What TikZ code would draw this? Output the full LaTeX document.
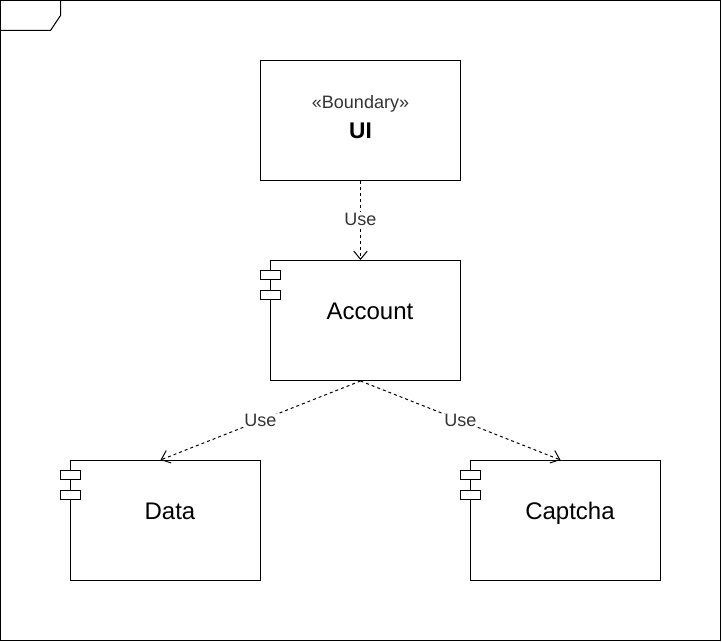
\documentclass[tikz,border=0pt]{standalone}
\usepackage{fontspec}
\setmainfont{Liberation Sans}
\usetikzlibrary{arrows.meta,calc}
\definecolor{lbl}{HTML}{333333}
\tikzset{
  box/.style={draw=black, line width=0.75pt, fill=white, inner sep=0pt, minimum width=142.5pt, minimum height=90pt},
  bnd/.style={draw=black, line width=0.75pt, fill=white, inner sep=0pt, minimum width=150pt, minimum height=90pt},
  icon/.style={draw=black, line width=0.75pt, fill=white, inner sep=0pt, minimum width=15pt, minimum height=6.75pt},
  usearrow/.style={draw=black, line width=0.75pt, dash pattern=on 2.25pt off 2.25pt, -{Straight Barb[length=6pt,width=10pt,line width=0.75pt]}},
  uselbl/.style={text=lbl, font=\fontsize{13.5pt}{16pt}\selectfont, fill=white, inner sep=0.5pt},
  bigtxt/.style={font=\fontsize{18pt}{21pt}\selectfont, inner sep=0pt, anchor=base},
}
\begin{document}
\begin{tikzpicture}[x=0.75pt,y=-0.75pt]
\useasboundingbox (0,0) rectangle (722,642);
% frame
\draw[line width=0.75pt] (0.5,0.5) rectangle (720.5,640.5);
\draw[line width=0.75pt] (0.5,0.5) -- (60.5,0.5) -- (60.5,15.5) -- (50.5,30.5) -- (0.5,30.5);
% UI boundary
\node[bnd] (ui) at (360.5,120.5) {};
\node[font=\fontsize{13.5pt}{16pt}\selectfont, text=lbl, inner sep=0pt] (uistereo) at (360.5,104) {«Boundary»};
\node[font=\bfseries\fontsize{17pt}{20pt}\selectfont, inner sep=0pt] (uiname) at (360.5,131) {UI};
% Account
\node[box] (acc) at (365.5,320.5) {};
\node[icon] (acci1) at (270.5,275) {};
\node[icon] (acci2) at (270.5,295) {};
\node[bigtxt] (acct) at (370,319.6) {Account};
% Data
\node[box] (data) at (165.5,520.5) {};
\node[icon] (datai1) at (70.5,475) {};
\node[icon] (datai2) at (70.5,495) {};
\node[bigtxt] (datat) at (170,519.6) {Data};
% Captcha
\node[box] (cap) at (565.5,520.5) {};
\node[icon] (capi1) at (470.5,475) {};
\node[icon] (capi2) at (470.5,495) {};
\node[bigtxt] (capt) at (570,519.6) {Captcha};
% connectors
\draw[usearrow] (ui.south) -- ($(acc.north)+(-5,0)$) node[pos=0.48, uselbl] (l1) {Use};
\draw[usearrow] ($(acc.south)+(-5,0)$) -- ($(data.north)+(-5,0)$) node[pos=0.5, uselbl] (l2) {Use};
\draw[usearrow] ($(acc.south)+(-5,0)$) -- ($(cap.north)+(-5,0)$) node[pos=0.5, uselbl] (l3) {Use};
\end{tikzpicture}
\end{document}
